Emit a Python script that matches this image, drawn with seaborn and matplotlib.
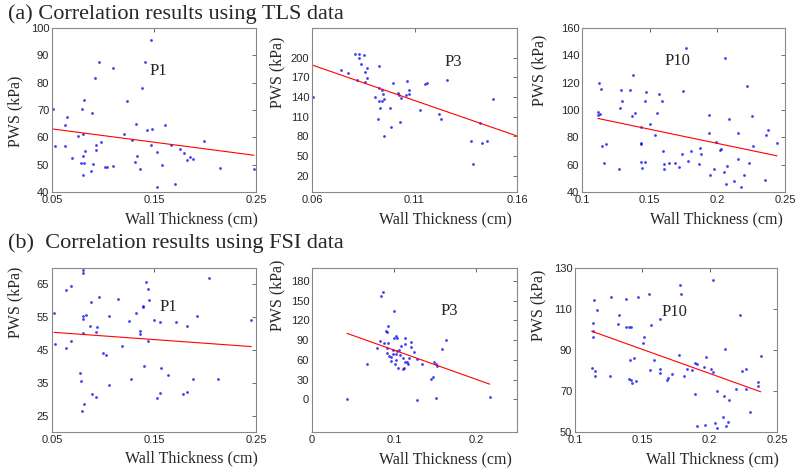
import numpy as np
import pandas as pd
import matplotlib
matplotlib.use("Agg")
import matplotlib.pyplot as plt
import seaborn as sns

# ---------------- data ----------------
# (a) TLS data, P1
a_p1_x = [0.0507, 0.0533, 0.0628, 0.065, 0.063, 0.070, 0.075, 0.078, 0.079, 0.081, 0.080, 0.080,
          0.081, 0.0805, 0.0825, 0.088, 0.0897, 0.090, 0.0926, 0.093, 0.0936, 0.096, 0.098, 0.102,
          0.104, 0.110, 0.110, 0.121, 0.1234, 0.128, 0.131, 0.132, 0.133, 0.136, 0.138, 0.141,
          0.143, 0.147, 0.148, 0.147, 0.153, 0.153, 0.158, 0.161, 0.167, 0.171, 0.1756, 0.179,
          0.182, 0.185, 0.188, 0.1995, 0.215, 0.248]
a_p1_y = [70.4, 56.9, 64.4, 67.4, 56.9, 52.6, 60.5, 50.7, 70.3, 73.5, 61.4, 53.2,
          50.5, 46.2, 55.0, 47.5, 69.0, 50.2, 81.6, 55.3, 57.2, 87.4, 58.2, 49.0,
          49.0, 49.6, 85.5, 61.3, 73.3, 59.1, 51.1, 64.9, 53.1, 48.3, 78.1, 87.7,
          62.8, 95.7, 63.2, 57.2, 42.0, 54.5, 50.0, 64.5, 57.2, 43.0, 55.8, 54.4,
          51.6, 52.9, 52.2, 58.7, 48.8, 48.3]

# (a) TLS data, P3
a_p3_x = [0.0605, 0.0743, 0.0776, 0.0811, 0.0827, 0.0827, 0.0854, 0.0839, 0.0821, 0.0867, 0.0857,
          0.0859, 0.0869, 0.0906, 0.092, 0.0926, 0.0926, 0.0926, 0.0933, 0.094, 0.0943, 0.0948,
          0.095, 0.095, 0.0982, 0.0984, 0.0995, 0.102, 0.1025, 0.1032, 0.103, 0.1058, 0.1065,
          0.1073, 0.1073, 0.1129, 0.115, 0.116, 0.1218, 0.1231, 0.126, 0.1378, 0.1384, 0.142,
          0.1427, 0.1452, 0.1483, 0.1603]
a_p3_y = [140.5, 181.2, 177.1, 206.1, 205.1, 200.0, 204.0, 189.8, 166.4, 184.7, 178.1,
          162.4, 169.5, 140.0, 106.5, 187.3, 154.2, 134.4, 123.7, 134.4, 150.2, 145.1,
          136.4, 80.5, 122.7, 94.3, 160.9, 146.1, 143.1, 139.0, 102.4, 142.6, 164.4,
          150.7, 144.1, 120.7, 159.3, 161.4, 113.6, 106.0, 165.9, 72.9, 38.3, 100.9,
          69.3, 73.4, 137.0, 132.4]

# (a) TLS data, P10
a_p10_x = [0.1126, 0.1143, 0.1118, 0.1118, 0.1135, 0.115, 0.1175, 0.1165, 0.127, 0.1278, 0.1288,
           0.1296, 0.1352, 0.1374, 0.1369, 0.1389, 0.1433, 0.1436, 0.1438, 0.1433, 0.1446, 0.1463,
           0.1463, 0.1473, 0.150, 0.1539, 0.1552, 0.1571, 0.1594, 0.1601, 0.1608, 0.1608, 0.1643,
           0.1687, 0.1717, 0.1749, 0.1739, 0.1768, 0.1781, 0.1805, 0.1862, 0.1869, 0.1882, 0.1941,
           0.1941, 0.1943, 0.1975, 0.199, 0.2017, 0.2025, 0.2047, 0.2057, 0.2064, 0.2071, 0.2089,
           0.2126, 0.215, 0.215, 0.2177, 0.220, 0.2217, 0.2236, 0.2256, 0.2264, 0.2352, 0.236,
           0.2374, 0.2441]
a_p10_y = [120.1, 115.2, 98.3, 96.1, 97.3, 73.3, 75.0, 61.3, 56.9, 101.5, 114.4,
           106.4, 114.9, 125.5, 95.3, 97.5, 87.5, 76.2, 75.3, 62.0, 57.6, 61.8,
           106.6, 113.0, 90.0, 81.6, 98.0, 111.5, 106.6, 70.1, 60.8, 56.9, 61.1,
           61.1, 58.1, 114.2, 67.9, 145.3, 62.5, 70.1, 60.6, 72.3, 67.7, 96.1,
           83.1, 52.5, 56.6, 76.5, 70.9, 71.3, 54.9, 138.4, 46.1, 59.1, 93.1,
           47.8, 83.3, 64.0, 43.9, 52.7, 117.4, 61.1, 95.6, 73.3, 48.8, 81.9,
           85.3, 75.7]

# (b) FSI data, P1
b_p1_x = [0.052, 0.0533, 0.0642, 0.0638, 0.0688, 0.0691, 0.0777, 0.0787, 0.080, 0.080, 0.080,
          0.080, 0.080, 0.081, 0.0797, 0.0836, 0.0869, 0.0886, 0.0895, 0.0928, 0.0935, 0.0945,
          0.0965, 0.1004, 0.1031, 0.1063, 0.1063, 0.1146, 0.1189, 0.1258, 0.1278, 0.1327, 0.136,
          0.136, 0.139, 0.1396, 0.1406, 0.1426, 0.1446, 0.1442, 0.1452, 0.1498, 0.1528, 0.1554,
          0.1564, 0.1561, 0.164, 0.1719, 0.1788, 0.1821, 0.1825, 0.1884, 0.192, 0.2039, 0.2128,
          0.2454]
b_p1_y = [56.4, 46.7, 63.2, 45.5, 64.6, 47.6, 38.1, 35.4, 69.4, 68.6, 55.5,
          54.3, 50.2, 28.5, 26.4, 55.6, 52.3, 59.6, 31.7, 30.6, 50.5, 51.9,
          61.3, 44.0, 43.5, 55.4, 34.3, 60.4, 46.3, 53.7, 36.1, 56.3, 50.9,
          49.8, 58.0, 58.3, 40.0, 65.7, 63.6, 47.8, 60.3, 54.1, 30.4, 53.5,
          39.5, 31.8, 37.5, 53.5, 31.7, 52.2, 32.3, 36.2, 55.4, 67.1, 36.1,
          54.2]

# (b) FSI data, P3
b_p3_x = [0.0427, 0.0671, 0.0797, 0.0825, 0.0846, 0.087, 0.0874, 0.0898, 0.0915, 0.0923, 0.0915,
          0.0927, 0.0919, 0.0935, 0.0963, 0.0959, 0.0984, 0.0992, 0.0996, 0.1004, 0.1012, 0.102,
          0.102, 0.1033, 0.1033, 0.1028, 0.1049, 0.1061, 0.1073, 0.1085, 0.1106, 0.1114, 0.1122,
          0.113, 0.113, 0.1134, 0.1159, 0.1171, 0.1187, 0.1203, 0.1207, 0.124, 0.1285, 0.1285,
          0.1337, 0.1455, 0.1476, 0.1492, 0.1508, 0.152, 0.1508, 0.1581, 0.1634, 0.2167]
b_p3_y = [0.0, 52.9, 77.6, 89.2, 157.8, 162.9, 86.2, 103.9, 101.8, 110.9, 77.6,
          86.2, 70.1, 66.5, 64.0, 58.9, 74.6, 68.6, 93.8, 134.1, 52.9, 96.8,
          68.6, 74.1, 92.8, 60.5, 46.9, 74.6, 67.0, 81.2, 46.4, 63.5, 47.4,
          93.3, 83.7, 56.5, 57.0, 53.4, 63.0, 79.6, 87.2, 72.6, 61.0, -0.5,
          53.4, 30.2, 33.3, 56.5, 53.4, 50.9, 2.5, 76.1, 89.7, 4.0]

# (b) FSI data, P10
b_p10_x = [0.1123, 0.1131, 0.1133, 0.1136, 0.1141, 0.1146, 0.1148, 0.1161, 0.1262, 0.1267, 0.1319,
           0.1326, 0.1376, 0.1381, 0.1398, 0.1413, 0.1411, 0.1401, 0.1418, 0.1423, 0.1438, 0.145,
           0.1467, 0.1507, 0.1515, 0.1549, 0.1557, 0.1562, 0.1589, 0.1629, 0.1634, 0.1634, 0.1681,
           0.1693, 0.1718, 0.1777, 0.1787, 0.177, 0.1809, 0.1834, 0.1871, 0.1891, 0.1894, 0.1906,
           0.1909, 0.196, 0.197, 0.1963, 0.201, 0.2022, 0.2025, 0.2037, 0.2052, 0.2057, 0.2097,
           0.2106, 0.2117, 0.2119, 0.2139, 0.2144, 0.2193, 0.2223, 0.224, 0.2268, 0.2268, 0.2297,
           0.2357, 0.2357, 0.2379]
b_p10_y = [81.4, 99.5, 103.3, 96.4, 114.2, 80.0, 77.4, 109.3, 77.4, 115.7, 102.5,
           107.3, 115.0, 101.1, 101.3, 101.0, 85.0, 75.7, 75.4, 73.8, 86.0, 74.7,
           116.0, 93.2, 96.1, 117.3, 80.1, 102.1, 85.2, 104.9, 79.0, 80.9, 75.6,
           76.2, 78.3, 121.8, 117.1, 87.8, 77.4, 80.8, 80.1, 83.9, 68.7, 83.1,
           52.9, 81.8, 86.8, 53.2, 80.8, 124.3, 79.5, 54.4, 69.9, 51.8, 57.1,
           67.4, 90.7, 52.9, 54.7, 65.8, 71.2, 107.3, 80.0, 80.9, 71.2, 59.6,
           74.3, 72.5, 87.0]

patient_labels = ["P1", "P3", "P10", "P1", "P3", "P10"]
row_titles = ["(a) Correlation results using TLS data", "(b)  Correlation results using FSI data"]
x_label = "Wall Thickness (cm)"
y_label = "PWS (kPa)"

x_ticks = [[0.05, 0.15, 0.25], [0.06, 0.11, 0.16], [0.1, 0.15, 0.2, 0.25],
           [0.05, 0.15, 0.25], [0, 0.1, 0.2], [0.1, 0.15, 0.2, 0.25]]
x_ticklabels = [["0.05", "0.15", "0.25"], ["0.06", "0.11", "0.16"], ["0.1", "0.15", "0.2", "0.25"],
                ["0.05", "0.15", "0.25"], ["0", "0.1", "0.2"], ["0.1", "0.15", "0.2", "0.25"]]
y_ticks = [list(range(40, 101, 10)), list(range(20, 201, 30)), list(range(40, 161, 20)),
           list(range(25, 66, 10)), list(range(0, 181, 30)), list(range(50, 131, 20))]

# ---------------- layout / styling ----------------
sns.set_style("white")
plt.rcParams["font.family"] = ["Liberation Serif", "DejaVu Serif"]

W, H = 800, 476
fig = plt.figure(figsize=(W / 100, H / 100), dpi=100)

# pixel boxes: left, top, right, bottom
boxes = [(52, 28, 256, 192), (312, 28, 517, 192), (582, 28, 785, 192),
         (52, 268, 256, 432), (312, 268, 517, 432), (575, 268, 777, 432)]
xlims = [(0.05, 0.25), (0.06, 0.16), (0.1, 0.25), (0.05, 0.25), (0, 0.25), (0.1, 0.25)]
ylims = [(40, 100), (-5, 245), (40, 160), (20, 70), (-50, 200), (50, 130)]
xlab_pos = [(0.685, -0.17), (0.65, -0.17), (0.66, -0.17),
            (0.685, -0.16), (0.65, -0.17), (0.68, -0.17)]
ylab_pos = [(-0.18, 0.49), (-0.17, 0.73), (-0.21, 0.74),
            (-0.18, 0.79), (-0.17, 0.835), (-0.18, 0.77)]
plab_pos = [(0.52, 0.74), (0.69, 0.79), (0.47, 0.80),
            (0.57, 0.76), (0.67, 0.74), (0.49, 0.73)]

xs = [a_p1_x, a_p3_x, a_p10_x, b_p1_x, b_p3_x, b_p10_x]
ys = [a_p1_y, a_p3_y, a_p10_y, b_p1_y, b_p3_y, b_p10_y]

for i in range(6):
    l, t, r, b = boxes[i]
    ax = fig.add_axes([l / W, 1 - b / H, (r - l) / W, (b - t) / H])
    df = pd.DataFrame({"x": xs[i], "y": ys[i]})
    sns.regplot(data=df, x="x", y="y", ax=ax, ci=None, color="blue",
                scatter_kws=dict(s=4, linewidths=0, color="#1010ee"),
                line_kws=dict(color="red", lw=0.8))
    ax.set_xlim(*xlims[i])
    ax.set_ylim(*ylims[i])
    ax.set_xticks(x_ticks[i])
    ax.set_xticklabels(x_ticklabels[i])
    ax.set_yticks(y_ticks[i])
    ax.tick_params(direction="in", length=3, width=0.6, color="#555555",
                   top=True, right=True, labelsize=8, pad=2,
                   labelfontfamily="Liberation Sans")
    for s in ax.spines.values():
        s.set_color("#888888")
        s.set_linewidth(0.8)
    ax.set_xlabel(x_label, fontsize=11.5)
    ax.set_ylabel(y_label, fontsize=11.5)
    ax.xaxis.set_label_coords(*xlab_pos[i])
    ax.yaxis.set_label_coords(*ylab_pos[i])
    ax.xaxis.label.set_va("center")
    ax.yaxis.label.set_va("center")
    ax.text(plab_pos[i][0], plab_pos[i][1], patient_labels[i], transform=ax.transAxes,
            fontsize=12, ha="center", va="center")

fig.text(8 / W, 1 - 14 / H, row_titles[0], fontsize=16, ha="left", va="center")
fig.text(8 / W, 1 - 243 / H, row_titles[1], fontsize=16, ha="left", va="center")

fig.savefig("out.png", dpi=100)
